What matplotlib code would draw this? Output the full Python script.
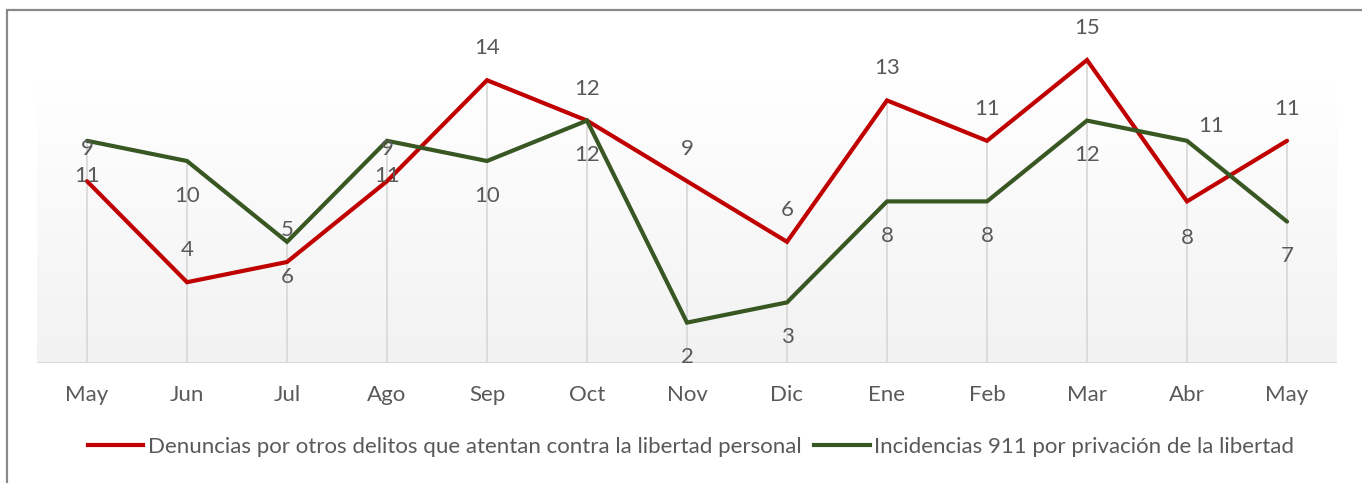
import matplotlib
matplotlib.use("Agg")
import matplotlib.pyplot as plt
import numpy as np
from matplotlib.patches import Rectangle
from matplotlib.lines import Line2D

months = ["May", "Jun", "Jul", "Ago", "Sep", "Oct", "Nov", "Dic", "Ene", "Feb", "Mar", "Abr", "May"]
denuncias = [9, 4, 5, 9, 14, 12, 9, 6, 13, 11, 15, 8, 11]
incidencias = [11, 10, 6, 11, 10, 12, 2, 3, 8, 8, 12, 11, 7]
name_den = "Denuncias por otros delitos que atentan contra la libertad personal"
name_inc = "Incidencias 911 por privación de la libertad"

RED = "#C00000"
GREEN = "#385723"
TXT = "#595959"
FONT = "Lato"
FS = 16

W, H = 1362, 483
fig = plt.figure(figsize=(W / 100, H / 100), dpi=100)
plt.rcParams["font.family"] = [FONT, "DejaVu Sans"]

ax_left, ax_right, ax_bottom, ax_top = 37, 1337, 363, 20
ax = fig.add_axes([ax_left / W, (H - ax_bottom) / H, (ax_right - ax_left) / W, (ax_bottom - ax_top) / H])
n = len(months)
x = np.arange(n)
px_per_unit = 20.2
ymax = (ax_bottom - ax_top) / px_per_unit
for s in ax.spines.values():
    s.set_visible(False)
ax.set_yticks([])
ax.set_xticks(x)
ax.set_xticklabels(months, fontsize=FS, color=TXT)
ax.tick_params(axis="x", length=0, pad=16)

# gradient plot area
grad_top = (ax_bottom - 82) / px_per_unit
g = np.linspace(1.0, 0.949, 256).reshape(-1, 1)
ax.imshow(np.dstack([g, g, g]), extent=[-0.5, n - 0.5, 0, grad_top], aspect="auto",
          origin="upper", zorder=0, interpolation="bicubic")
ax.set_xlim(-0.5, n - 0.5)
ax.set_ylim(0, ymax)

# drop lines
for i in range(n):
    top = max(denuncias[i], incidencias[i])
    ax.plot([x[i], x[i]], [0, top], color="#d9d9d9", lw=1.3, zorder=1)
ax.axhline(0, color="#d9d9d9", lw=2.2, zorder=1)

ax.plot(x, denuncias, color=RED, lw=3, zorder=3, solid_capstyle="round", solid_joinstyle="miter")
ax.plot(x, incidencias, color=GREEN, lw=3, zorder=3, solid_capstyle="round", solid_joinstyle="miter")

# data labels
for i in range(n):
    off_r = (0, 23)
    off_g = (0, -25)
    if i == 11:
        off_r = (0, -26)
        off_g = (17, 11)
    ax.annotate(str(denuncias[i]), (x[i], denuncias[i]), xytext=off_r, textcoords="offset points",
                ha="center", va="center", fontsize=FS, color=TXT, zorder=4)
    ax.annotate(str(incidencias[i]), (x[i], incidencias[i]), xytext=off_g, textcoords="offset points",
                ha="center", va="center", fontsize=FS, color=TXT, zorder=4)

handles = [Line2D([], [], color=RED, lw=3), Line2D([], [], color=GREEN, lw=3)]
fig.legend(handles, [name_den, name_inc], loc="center", bbox_to_anchor=(691 / W, (H - 447) / H),
           ncol=2, frameon=False, fontsize=FS, labelcolor=TXT, handlelength=2.5,
           handletextpad=0.2, columnspacing=0.6)

fig.add_artist(Rectangle((7 / W, -0.1), 1.2, (H - 10) / H + 0.1, transform=fig.transFigure,
                         fill=False, edgecolor="#898989", lw=1.6))

fig.savefig("out.png", dpi=100, facecolor="white")
